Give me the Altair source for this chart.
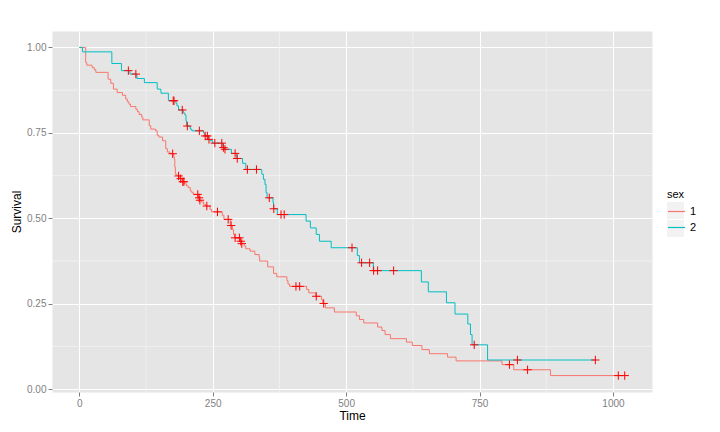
import altair as alt
import pandas as pd

# ---- Kaplan-Meier step curves ----
red_t = [0, 12, 14, 24, 28, 31, 54, 59, 64, 71, 81, 87, 90, 93, 96, 106, 109, 112, 117, 119,
         131, 134, 143, 146, 149, 156, 162, 165, 170, 177, 178, 179, 180, 183, 188, 193, 197,
         201, 204, 208, 211, 214, 223, 225, 229, 233, 237, 245, 248, 268, 271, 283, 287, 289,
         291, 302, 304, 309, 312, 320, 329, 337, 338, 353, 364, 370, 389, 391, 394, 426, 430,
         443, 454, 456, 461, 478, 519, 525, 533, 559, 567, 573, 583, 613, 624, 642, 656, 690,
         706, 792, 814, 883, 1022]
red_s = [1.0, 0.956, 0.948, 0.941, 0.935, 0.927, 0.907, 0.895, 0.878, 0.868, 0.860, 0.849,
         0.841, 0.834, 0.827, 0.819, 0.812, 0.804, 0.796, 0.788, 0.771, 0.761, 0.756, 0.743,
         0.738, 0.727, 0.704, 0.694, 0.689, 0.680, 0.673, 0.650, 0.629, 0.624, 0.616, 0.607,
         0.601, 0.595, 0.590, 0.580, 0.575, 0.570, 0.560, 0.553, 0.548, 0.541, 0.536, 0.526,
         0.519, 0.509, 0.497, 0.479, 0.467, 0.453, 0.443, 0.433, 0.426, 0.419, 0.411, 0.404,
         0.394, 0.387, 0.375, 0.358, 0.339, 0.329, 0.318, 0.308, 0.301, 0.292, 0.282, 0.272,
         0.262, 0.251, 0.238, 0.226, 0.215, 0.204, 0.194, 0.182, 0.172, 0.160, 0.148, 0.138,
         0.128, 0.116, 0.104, 0.094, 0.083, 0.072, 0.057, 0.040, 0.040]
red_censor = [175, 186, 190, 194, 196, 222, 224.5, 226, 239, 259, 279, 284.5, 292, 300, 302.6,
              304.5, 406, 413, 444, 458, 806, 840, 1010, 1022]

cyan_t = [0, 6, 61, 79, 95, 108, 122, 146, 153, 167, 181, 183, 186, 195, 198, 200, 201, 208,
          211, 233, 235, 242, 245, 250, 269, 272, 285, 295, 306, 312, 342, 345, 348, 350, 352,
          363, 364, 371, 425, 433, 444, 450, 472, 521, 525, 551, 641, 654, 688, 704, 728, 733,
          736, 765, 967]
cyan_s = [1.0, 0.987, 0.953, 0.932, 0.922, 0.909, 0.897, 0.878, 0.866, 0.844, 0.837, 0.829,
          0.817, 0.808, 0.802, 0.785, 0.770, 0.761, 0.756, 0.749, 0.741, 0.731, 0.727, 0.720,
          0.707, 0.702, 0.690, 0.675, 0.661, 0.643, 0.629, 0.614, 0.599, 0.575, 0.560, 0.546,
          0.528, 0.511, 0.492, 0.472, 0.453, 0.433, 0.414, 0.391, 0.370, 0.347, 0.314, 0.285,
          0.253, 0.220, 0.191, 0.160, 0.130, 0.0856, 0.0856]
cyan_censor = [92, 106, 176, 177.5, 193, 202.5, 225, 236, 240, 243, 254, 267, 270, 273, 292, 296,
               315, 332, 356, 364.5, 378, 384, 511, 529, 544, 551.5, 559, 589, 740, 821, 967]

groups = ["1", "2"]
colors = ["#F8766D", "#00BFC4"]
key_groups = ["key1", "key2"]

x_major = [0, 250, 500, 750, 1000]
x_minor = [125, 375, 625, 875]
y_major = [0, 0.25, 0.5, 0.75, 1.0]
y_minor = [0.125, 0.375, 0.625, 0.875]

assert len(red_t) == len(red_s) and len(cyan_t) == len(cyan_s)


def level_at(times, survs, t):
    v = survs[0]
    for tt, ss in zip(times, survs):
        if tt <= t:
            v = ss
        else:
            break
    return v


lines_df = pd.concat([
    pd.DataFrame({"time": red_t, "surv": red_s, "sex": "1"}),
    pd.DataFrame({"time": cyan_t, "surv": cyan_s, "sex": "2"}),
])
cens_df = pd.concat([
    pd.DataFrame({"time": red_censor,
                  "surv": [level_at(red_t, red_s, t) for t in red_censor], "sex": "1"}),
    pd.DataFrame({"time": cyan_censor,
                  "surv": [level_at(cyan_t, cyan_s, t) for t in cyan_censor], "sex": "2"}),
])

xscale = alt.Scale(domain=[-51.1, 1073.1], nice=False, zero=False)
yscale = alt.Scale(domain=[-0.008, 1.048], nice=False, zero=False)

FONT = "Liberation Sans"
GREY = "#7F7F7F"
LEG_X = 615
LEG_Y = 158

xaxis = alt.Axis(values=x_major, title="Time", format="d", grid=True, gridColor="white",
                 gridWidth=1, domain=False, tickColor=GREY, tickSize=4, labelColor=GREY,
                 labelFontSize=10, labelPadding=2, titlePadding=2, titleFontSize=12,
                 titleFontWeight="normal", titleColor="black", labelFont=FONT, titleFont=FONT,
                 labelFlush=False)
yaxis = alt.Axis(values=y_major, title="Survival", format=".2f", grid=True, gridColor="white",
                 gridWidth=1, domain=False, tickColor=GREY, tickSize=4, labelColor=GREY,
                 labelFontSize=10, labelPadding=2, titlePadding=3, titleFontSize=12,
                 titleFontWeight="normal", titleColor="black", labelFont=FONT, titleFont=FONT)

minor_x = alt.Chart(pd.DataFrame({"v": x_minor})).mark_rule(
    color="#F2F2F2", strokeWidth=0.8).encode(x=alt.X("v:Q", scale=xscale, axis=xaxis))
minor_y = alt.Chart(pd.DataFrame({"v": y_minor})).mark_rule(
    color="#F2F2F2", strokeWidth=0.8).encode(y=alt.Y("v:Q", scale=yscale, axis=yaxis))

common_legend = dict(orient="none", legendX=LEG_X, legendY=LEG_Y, symbolSize=289,
                     labelFontSize=11, titleFontSize=11, titleFontWeight="normal",
                     labelFont=FONT, titleFont=FONT, titlePadding=2, rowPadding=1,
                     labelOffset=4)

# grey key boxes behind the legend lines (legend only, no marks drawn)
key_bg = alt.Chart(lines_df).transform_filter("false").transform_calculate(
    key="'key' + datum.sex").mark_point(filled=True, color="#F2F2F2", opacity=1).encode(
    x=alt.X("time:Q", scale=xscale, axis=xaxis),
    y=alt.Y("surv:Q", scale=yscale, axis=yaxis),
    shape=alt.Shape("key:N", scale=alt.Scale(domain=key_groups, range=["square", "square"]),
                    legend=alt.Legend(title="sex", symbolFillColor="#F2F2F2",
                                      symbolStrokeWidth=0, symbolOpacity=1, titleOpacity=0,
                                      labelExpr="''", labelOpacity=0, zindex=0,
                                      **common_legend)),
)

lines = alt.Chart(lines_df).mark_line(interpolate="step-after", strokeWidth=1).encode(
    x=alt.X("time:Q", scale=xscale, axis=xaxis),
    y=alt.Y("surv:Q", scale=yscale, axis=yaxis),
    color=alt.Color("sex:N", scale=alt.Scale(domain=groups, range=colors),
                    legend=alt.Legend(title="sex", symbolType="stroke",
                                      symbolStrokeWidth=1.2, zindex=1, **common_legend)),
    order=alt.Order("time:Q"),
)

crosses = alt.Chart(cens_df).mark_point(
    shape="M-1,0L1,0M0,-1L0,1", filled=False, stroke="red", strokeWidth=1, size=70, opacity=1
).encode(
    x=alt.X("time:Q", scale=xscale, axis=xaxis),
    y=alt.Y("surv:Q", scale=yscale, axis=yaxis),
)

chart = alt.layer(minor_x, minor_y, key_bg, lines, crosses).properties(
    width=600, height=361, autosize="none",
    padding={"left": 52, "top": 31, "right": 68, "bottom": 40},
    background="white",
).configure_view(fill="#E5E5E5", stroke="transparent")

chart.save("out.html", embed_options={"renderer": "svg", "actions": False})
